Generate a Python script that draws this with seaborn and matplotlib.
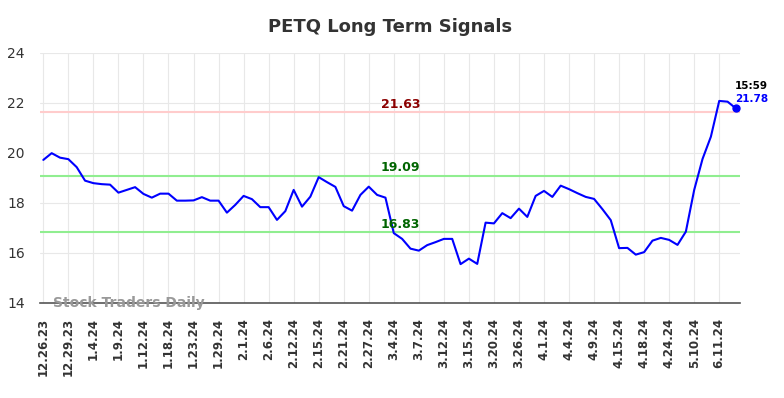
import matplotlib
matplotlib.use("Agg")
import matplotlib.pyplot as plt
import seaborn as sns
import pandas as pd

# data
dates = ["12.26.23", "12.29.23", "1.4.24", "1.9.24", "1.12.24", "1.18.24", "1.23.24",
         "1.29.24", "2.1.24", "2.6.24", "2.12.24", "2.15.24", "2.21.24", "2.27.24",
         "3.4.24", "3.7.24", "3.12.24", "3.15.24", "3.20.24", "3.26.24", "4.1.24",
         "4.4.24", "4.9.24", "4.15.24", "4.18.24", "4.24.24", "5.10.24", "6.11.24"]
prices = [19.72, 19.99, 19.81, 19.75, 19.43, 18.89, 18.79, 18.75, 18.73, 18.41,
          18.52, 18.63, 18.36, 18.21, 18.37, 18.37, 18.09, 18.09, 18.10, 18.23,
          18.09, 18.09, 17.61, 17.92, 18.28, 18.15, 17.83, 17.83, 17.32, 17.67,
          18.52, 17.85, 18.25, 19.03, 18.83, 18.64, 17.87, 17.69, 18.32, 18.65,
          18.32, 18.21, 16.79, 16.56, 16.17, 16.09, 16.31, 16.43, 16.56, 16.56,
          15.55, 15.77, 15.56, 17.21, 17.18, 17.59, 17.39, 17.77, 17.44, 18.28,
          18.48, 18.24, 18.69, 18.55, 18.39, 18.24, 18.16, 17.75, 17.31, 16.19,
          16.20, 15.93, 16.03, 16.49, 16.60, 16.52, 16.32, 16.85, 18.52, 19.76,
          20.65, 22.08, 22.05, 21.78]
tick_every = 3
upper_level = 21.63
mid_level = 19.09
lower_level = 16.83
last_time = "15:59"
title = "PETQ Long Term Signals"

df = pd.DataFrame({"idx": range(len(prices)), "price": prices})

# style
sns.set_style("whitegrid", {"grid.color": "#e8e8e8"})

fig = plt.figure(figsize=(7.84, 3.98), dpi=100)
ax = fig.add_axes([0.051, 0.239, 0.893, 0.628])

ax.axhline(upper_level, color="#ffcccc", lw=1.5, zorder=1)
ax.axhline(mid_level, color="#90ee90", lw=1.5, zorder=1)
ax.axhline(lower_level, color="#90ee90", lw=1.5, zorder=1)

sns.lineplot(data=df, x="idx", y="price", color="#0000ff", lw=1.5, ax=ax, zorder=3)
ax.scatter([df["idx"].iloc[-1]], [df["price"].iloc[-1]], color="#0000ff", s=25, zorder=4)

mid_x = 42.8
ax.text(mid_x, upper_level + 0.05, f"{upper_level:.2f}", color="#8b0000",
        fontweight="bold", fontsize=9, ha="center", va="bottom")
ax.text(mid_x, mid_level + 0.05, f"{mid_level:.2f}", color="#006400",
        fontweight="bold", fontsize=9, ha="center", va="bottom")
ax.text(mid_x, lower_level + 0.05, f"{lower_level:.2f}", color="#006400",
        fontweight="bold", fontsize=9, ha="center", va="bottom")

last_i = df["idx"].iloc[-1]
last_p = df["price"].iloc[-1]
ax.annotate(last_time, (last_i, last_p), xytext=(-0.5, 16.5), textcoords="offset points",
            ha="left", va="center", fontsize=7.5, fontweight="bold", color="black",
            annotation_clip=False)
ax.annotate(f"{last_p:.2f}", (last_i, last_p), xytext=(-0.5, 7), textcoords="offset points",
            ha="left", va="center", fontsize=7.5, fontweight="bold", color="#0000ff",
            annotation_clip=False)

ax.text(1.2, 14.0, "Stock Traders Daily", color="#999999", fontsize=10,
        fontweight="bold", ha="left", va="center", zorder=5)

ax.set_xlim(-0.4, 83.5)
ax.set_ylim(14, 24)
ax.set_yticks([14, 16, 18, 20, 22, 24])
ax.set_xticks(range(0, len(prices), tick_every))
ax.set_xticklabels(dates, rotation=90, fontweight="bold", fontsize=8.5,
                   color="#333333")
ax.tick_params(axis="x", length=0, pad=11)
ax.tick_params(axis="y", length=0, pad=11, labelsize=10, labelcolor="#333333")
ax.set_xlabel("")
ax.set_ylabel("")

for s in ["top", "right", "left"]:
    ax.spines[s].set_visible(False)
ax.spines["bottom"].set_color("#555555")
ax.spines["bottom"].set_linewidth(1.2)

fig.text(0.497, 0.933, title, ha="center", va="center", fontsize=13,
         fontweight="bold", color="#333333")

fig.savefig("out.png", dpi=100)
